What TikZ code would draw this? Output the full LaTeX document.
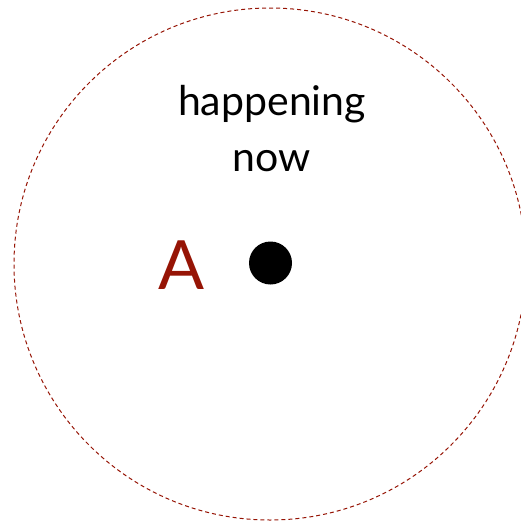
\documentclass[tikz,border=0pt]{standalone}
\usepackage{fontspec}
\setmainfont{Lato}
\usetikzlibrary{positioning}
\definecolor{darkred}{RGB}{150,20,5}

\begin{document}
\begin{tikzpicture}[
    x=1pt, y=-1pt,
    ring/.style={circle, draw=darkred, dash pattern=on 4pt off 3pt, line width=1pt, minimum size=512pt, inner sep=0pt},
    dot/.style={circle, fill=black, minimum size=43pt, inner sep=0pt},
    label/.style={font=\fontsize{41}{56}\selectfont, align=center}
]
\useasboundingbox (0,0) rectangle (521,525);
\begin{scope}
\clip (0,0) rectangle (521,525);

% Cerchio tratteggiato
\node[ring] (ring) at (270,264) {};

% Punto centrale
\node[dot] (dot) at (270.5,263) {};

% Etichette
\node[text=darkred, font=\fontsize{68}{68}\selectfont, anchor=base] (a) at (182,289) {A};
\node[label, anchor=base] (now) at (272,171) {happening\\now};
\end{scope}

\end{tikzpicture}
\end{document}
